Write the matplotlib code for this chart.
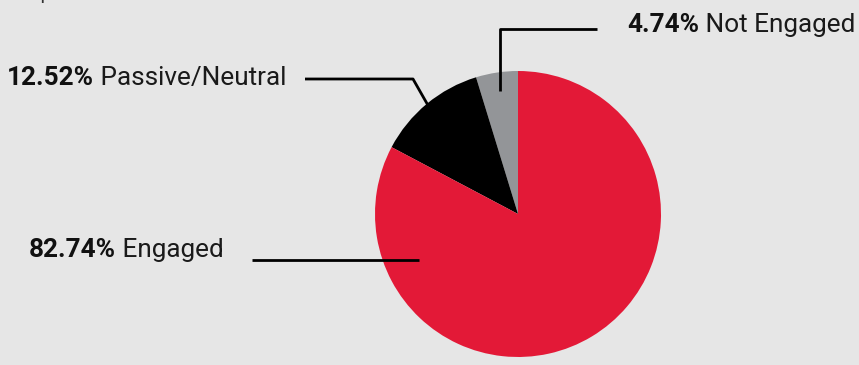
import numpy as np
import matplotlib
matplotlib.use("Agg")
import matplotlib.pyplot as plt

# data
labels = ["Not Engaged", "Passive/Neutral", "Engaged"]
values = [4.74, 12.52, 82.74]
colors = ["#939598", "#000000", "#e31937"]

W, H = 859, 365
bg = "#e6e6e6"

fig = plt.figure(figsize=(W / 100, H / 100), dpi=100, facecolor=bg)
ax = fig.add_axes([0, 0, 1, 1])

cx, cy, R = 518, H - 214, 143
wedges, _ = ax.pie(values, colors=colors, startangle=90, counterclock=True,
                   center=(cx, cy), radius=R, frame=True,
                   wedgeprops=dict(linewidth=0))
ax.set_xlim(0, W)
ax.set_ylim(0, H)
ax.set_aspect("equal")
ax.axis("off")

def pt(deg, frac):
    a = np.radians(deg)
    return cx + frac * R * np.cos(a), cy + frac * R * np.sin(a)

lw = 2.0
# not engaged: anchor at wedge middle
w = wedges[0]
x0, y0 = pt((w.theta1 + w.theta2) / 2, 0.87)
ax.plot([x0, x0, 597], [y0, H - 29, H - 29], color="black", lw=lw, solid_capstyle="butt")
# passive/neutral
w = wedges[1]
x0, y0 = pt((w.theta1 + w.theta2) / 2, 0.99)
ax.plot([305, 413, x0], [H - 79, H - 79, y0], color="black", lw=lw, solid_capstyle="butt")
# engaged
ax.plot([252, 419], [H - 260, H - 260], color="black", lw=lw, solid_capstyle="butt")

fs = 18.8
def label(x, y, pct, name):
    t = ax.text(x, H - y, f"{pct:.2f}%", fontsize=fs, fontweight="bold",
                family="Roboto", color="#111111", va="baseline", ha="left")
    ax.annotate(" " + name, xy=(1, 0), xycoords=t, va="bottom", ha="left",
                fontsize=fs, family="Roboto", color="#1a1a1a")

label(627, 32, values[0], labels[0])
label(7, 85, values[1], labels[1])
label(29, 257, values[2], labels[2])

ax.text(8, H + 1, "Response Rate", fontsize=14, family="Roboto",
        color="#333333", va="baseline", ha="left")

fig.savefig("out.png", dpi=100, facecolor=bg)
